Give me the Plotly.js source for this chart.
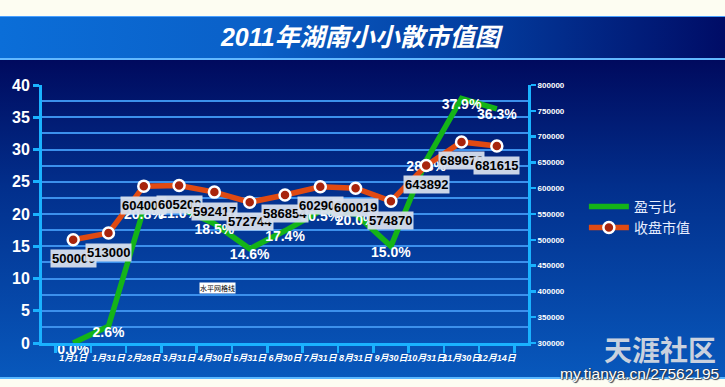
<!DOCTYPE html>
<html>
<head>
<meta charset="utf-8">
<script src="https://cdn.plot.ly/plotly-3.0.1.min.js"></script>
<style>
  html, body { margin:0; padding:0; background:#fdfdf2; }
  #wrap { position:relative; width:725px; height:387px; background:#fdfdf2; overflow:hidden; }
  #band { position:absolute; left:0; top:16px; width:725px; height:41px;
          background:linear-gradient(to right,#0b6ed8 0%,#0a60c8 35%,#033ea0 65%,#000c66 100%);
          border-top:1px solid #4aa0ff; border-bottom:2px solid #62b8ff; }
  #main { position:absolute; left:0; top:60px; width:725px; height:317px;
          background:linear-gradient(to bottom,#000a5e 0%,#022f8c 40%,#0858bc 100%);
          border-bottom:2px solid #5ab8ff; }
  #chart { position:absolute; left:0; top:0; width:725px; height:387px; }
</style>
</head>
<body>
<div id="wrap">
  <div id="band"></div>
  <div id="main"></div>
  <div id="chart"></div>
</div>
<script>
// ---- data ----
const categories = ["1月1日","1月31日","2月28日","3月31日","4月30日","5月31日","6月30日","7月31日","8月31日","9月30日","10月31日","11月30日","12月14日"];
const ratioValues = [0.0, 2.6, 20.8, 21.0, 18.5, 14.6, 17.4, 20.5, 20.0, 15.0, 28.3, 37.9, 36.3];
const ratioLabels = ["0.0%","2.6%","20.8%","21.0%","18.5%","14.6%","17.4%","20.5%","20.0%","15.0%","28.3%","37.9%","36.3%"];
const marketValues = [500000, 513000, 604000, 605200, 592417, 572744, 586854, 602900, 600019, 574870, 643892, 689670, 681615];
const leftTicks = [0, 5, 10, 15, 20, 25, 30, 35, 40];
const rightTicks = [300000, 350000, 400000, 450000, 500000, 550000, 600000, 650000, 700000, 750000, 800000];
const seriesNames = ["盈亏比", "收盘市值"];
const titleText = "2011年湖南小小散市值图";

const CJK = "'Liberation Sans', 'Noto Sans CJK SC', sans-serif";
const AXC = "#1ab2ff";
const GRID = "#3c90ec";

const traces = [
  {
    type: "scatter", mode: "lines+text", name: seriesNames[0],
    x: categories, y: ratioValues, yaxis: "y",
    text: ratioLabels, textposition: "bottom center",
    textfont: { family: "'Liberation Sans', sans-serif", size: 14, color: "#ffffff", weight: "bold" },
    line: { color: "#14b418", width: 5.5 },
    cliponaxis: false
  },
  {
    type: "scatter", mode: "lines+markers", name: seriesNames[1],
    x: categories, y: marketValues, yaxis: "y2",
    line: { color: "#e04a12", width: 5.5 },
    marker: { symbol: "circle", size: 11, color: "#a8240c", line: { color: "#ffffff", width: 2.5 } },
    cliponaxis: false
  }
];

const annotations = marketValues.map((v, i) => ({
  x: categories[i], y: v, xref: "x", yref: "y2",
  text: String(v), showarrow: false,
  xanchor: "center", yanchor: "middle",
  yshift: -19,
  font: { family: "'Liberation Sans', sans-serif", size: 13, color: "#000000", weight: "bold" },
  bgcolor: "rgba(214,222,236,0.95)", borderpad: 1
}));

annotations.push({
  xref: "paper", yref: "paper", x: 0.362, y: 0.213, xanchor: "center", yanchor: "middle", showarrow: false,
  text: "水平网格线", font: { family: "'Noto Sans CJK SC', sans-serif", size: 7, color: "#000000" },
  bgcolor: "#ffffff", borderpad: 0
});
annotations.push({
  xref: "paper", yref: "paper", x: 1.272, y: -0.023, xanchor: "center", yanchor: "middle", showarrow: false,
  text: "天涯社区", font: { family: "'Noto Sans CJK SC', sans-serif", size: 28, color: "#c9d1de", weight: "bold" }
});
annotations.push({
  xref: "paper", yref: "paper", x: 1.229, y: -0.118, xanchor: "center", yanchor: "middle", showarrow: false,
  text: "my.tianya.cn/27562195",
  font: { family: "'Liberation Sans', sans-serif", size: 15.5, color: "#ffffff",
          shadow: "0 0 1px #303848, 0 0 1px #303848, 1px 1px 1px #303848" }
});

const layout = {
  width: 725, height: 387,
  margin: { l: 42, r: 197, t: 85, b: 44, pad: 0 },
  paper_bgcolor: "rgba(0,0,0,0)",
  plot_bgcolor: "rgba(0,0,0,0)",
  title: {
    text: titleText, x: 0.497, xanchor: "center", y: 0.904, yanchor: "middle", yref: "container",
    font: { family: CJK, size: 25, color: "#ffffff", weight: "bold", style: "italic" }
  },
  showlegend: true,
  legend: {
    x: 1.115, xanchor: "left", y: 0.59, yanchor: "top",
    bgcolor: "rgba(0,0,0,0)",
    font: { family: "'Noto Sans CJK SC', sans-serif", size: 14, color: "#e8eeff" },
    itemwidth: 40, tracegroupgap: 0
  },
  xaxis: {
    type: "category", tickson: "boundaries", tickangle: 0,
    showline: true, linecolor: AXC, linewidth: 3,
    ticks: "outside", ticklen: 7, tickwidth: 2.5, tickcolor: AXC,
    ticklabelstandoff: 4,
    showgrid: false, zeroline: false,
    tickfont: { family: CJK, size: 9, color: "#ffffff", weight: "bold", style: "italic" },
    automargin: false
  },
  yaxis: {
    range: [0, 40], tickvals: leftTicks,
    showline: true, linecolor: AXC, linewidth: 3,
    ticks: "outside", ticklen: 6, tickwidth: 3, tickcolor: AXC,
    showgrid: true, gridcolor: GRID, gridwidth: 2,
    minor: { dtick: 2.5, showgrid: true, gridcolor: GRID, gridwidth: 2, ticks: "" },
    zeroline: false,
    tickfont: { family: "'Liberation Sans', sans-serif", size: 16, color: "#ffffff", weight: "bold" },
    automargin: false
  },
  yaxis2: {
    overlaying: "y", side: "right", range: [300000, 800000], tickvals: rightTicks, tickformat: "d",
    showline: true, linecolor: AXC, linewidth: 3,
    ticks: "outside", ticklen: 5, tickwidth: 2.5, tickcolor: AXC,
    showgrid: false, zeroline: false,
    tickfont: { family: "'Liberation Sans', sans-serif", size: 8, color: "#ffffff", weight: "bold" },
    automargin: false
  },
  annotations: annotations
};

Plotly.newPlot("chart", traces, layout, { displayModeBar: false, staticPlot: true });
</script>
</body>
</html>
